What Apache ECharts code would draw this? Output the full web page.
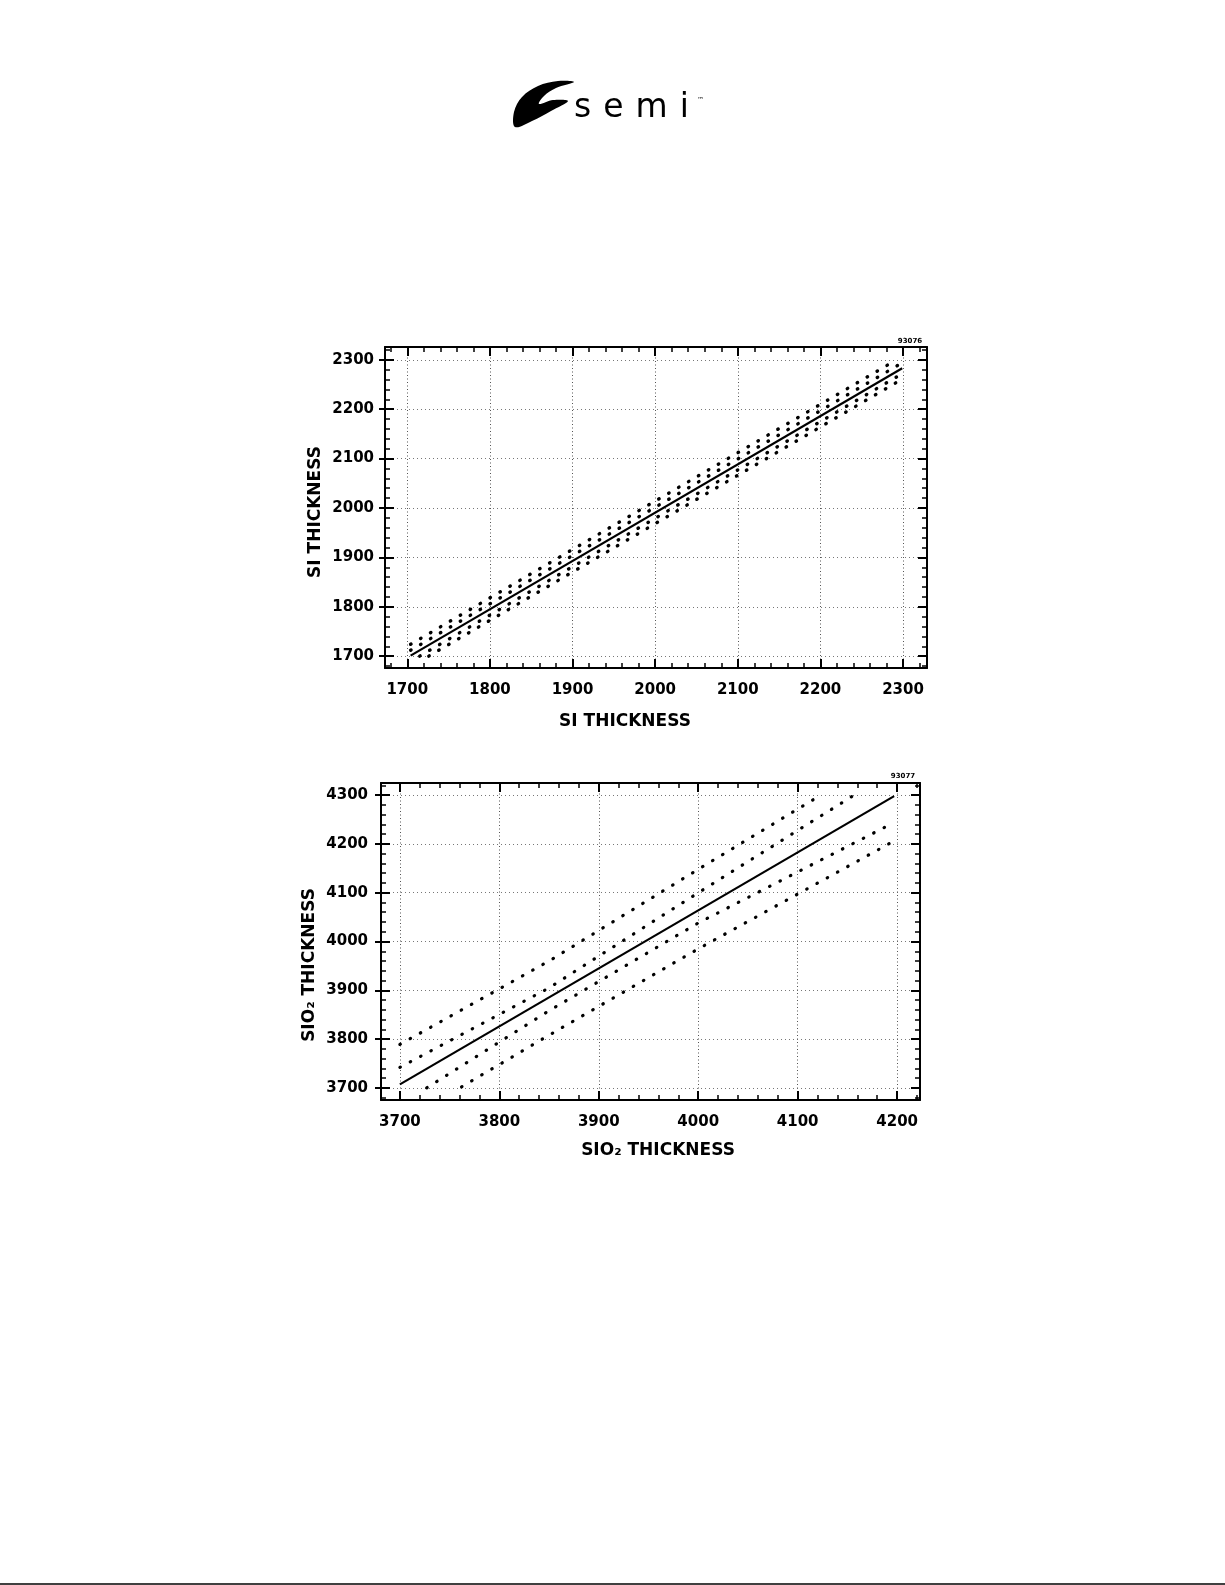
<!DOCTYPE html>
<html>
<head>
<meta charset="utf-8">
<script src="https://cdn.jsdelivr.net/npm/echarts@6/dist/echarts.min.js"></script>
<style>
html,body{margin:0;padding:0;background:#fff;}
#c{width:1225px;height:1585px;}
</style>
</head>
<body>
<div id="c"></div>
<script>
// ---------- Chart 1: Si thickness ----------
const siMajorX = [1700, 1800, 1900, 2000, 2100, 2200, 2300];
const siMajorY = [1700, 1800, 1900, 2000, 2100, 2200, 2300];
const siMinorX = [1680,1700,1720,1740,1760,1780,1800,1820,1840,1860,1880,1900,1920,1940,1960,1980,2000,2020,2040,2060,2080,2100,2120,2140,2160,2180,2200,2220,2240,2260,2280,2300,2320];
const siMinorY = [1680,1700,1720,1740,1760,1780,1800,1820,1840,1860,1880,1900,1920,1940,1960,1980,2000,2020,2040,2060,2080,2100,2120,2140,2160,2180,2200,2220,2240,2260,2280,2300,2320];
const siFit        = [[1704, 1701], [2299, 2283]];
const siUpperOuter = [[1704, 1724], [2292, 2300]];
const siUpperInner = [[1704, 1712], [2299, 2294]];
const siLowerInner = [[1715, 1700], [2299, 2272]];
const siLowerOuter = [[1726, 1700], [2299, 2261]];

// ---------- Chart 2: SiO2 thickness ----------
const sioMajorX = [3700, 3800, 3900, 4000, 4100, 4200];
const sioMajorY = [3700, 3800, 3900, 4000, 4100, 4200, 4300];
const sioMinorX = [3700,3720,3740,3760,3780,3800,3820,3840,3860,3880,3900,3920,3940,3960,3980,4000,4020,4040,4060,4080,4100,4120,4140,4160,4180,4200,4220];
const sioMinorY = [3680,3700,3720,3740,3760,3780,3800,3820,3840,3860,3880,3900,3920,3940,3960,3980,4000,4020,4040,4060,4080,4100,4120,4140,4160,4180,4200,4220,4240,4260,4280,4300,4320];
const sioFit        = [[3700, 3707], [4197, 4298]];
const sioUpperOuter = [[3700, 3789], [3850, 3960], [4000, 4148], [4123, 4300]];
const sioUpperInner = [[3700, 3742], [3850, 3905], [4000, 4100], [4155, 4298]];
const sioLowerInner = [[3727, 3700], [3850, 3858], [4000, 4038], [4195, 4242]];
const sioLowerOuter = [[3762, 3702], [3850, 3808], [4000, 3985], [4195, 4204]];

const FONT = 'DejaVu Sans';
const labelFont = {fontFamily: FONT, fontWeight: 'bold', fontSize: 15, color: '#000'};
const plain = function (v) { return String(v); };

function majorAxis(gridIndex, min, max, majors, position, withLabels, margin, split) {
  return {
    gridIndex: gridIndex, type: 'value', position: position, min: min, max: max,
    axisLine: {show: true, onZero: false, lineStyle: {color: '#000', width: 2}},
    axisTick: {show: true, inside: true, length: 9, customValues: majors, lineStyle: {color: '#000', width: 2}},
    axisLabel: withLabels ? Object.assign({show: true, customValues: majors, margin: margin, formatter: plain}, labelFont) : {show: false},
    splitLine: split ? {show: true, lineStyle: split} : {show: false}
  };
}
function minorAxis(gridIndex, min, max, minors, position) {
  return {
    gridIndex: gridIndex, type: 'value', position: position, min: min, max: max,
    axisLine: {show: false, onZero: false},
    axisTick: {show: true, inside: true, length: 5, customValues: minors, lineStyle: {color: '#000', width: 1.5}},
    axisLabel: {show: false},
    splitLine: {show: false}
  };
}
function outerTickAxis(gridIndex, min, max, majors, position) {
  return {
    gridIndex: gridIndex, type: 'value', position: position, min: min, max: max,
    axisLine: {show: false, onZero: false},
    axisTick: {show: true, inside: false, length: 6, customValues: majors, lineStyle: {color: '#000', width: 2}},
    axisLabel: {show: false},
    splitLine: {show: false}
  };
}

const vGrid = {color: '#555', width: 1, type: [1, 2.5]};
const hGrid = {color: '#777', width: 1, type: [1, 3]};

// chart 1 ranges
const siX = [1673, 2329], siY = [1676, 2326];
// chart 2 ranges
const sioX = [3681, 4223], sioY = [3675, 4325];

const xAxes = [
  majorAxis(0, siX[0], siX[1], siMajorX, 'bottom', true, 15, vGrid),
  minorAxis(0, siX[0], siX[1], siMinorX, 'bottom'),
  majorAxis(0, siX[0], siX[1], siMajorX, 'top', false, 0, null),
  minorAxis(0, siX[0], siX[1], siMinorX, 'top'),
  majorAxis(1, sioX[0], sioX[1], sioMajorX, 'bottom', true, 15, vGrid),
  minorAxis(1, sioX[0], sioX[1], sioMinorX, 'bottom'),
  majorAxis(1, sioX[0], sioX[1], sioMajorX, 'top', false, 0, null),
  minorAxis(1, sioX[0], sioX[1], sioMinorX, 'top')
];
const yAxes = [
  majorAxis(0, siY[0], siY[1], siMajorY, 'left', true, 11, hGrid),
  minorAxis(0, siY[0], siY[1], siMinorY, 'left'),
  outerTickAxis(0, siY[0], siY[1], siMajorY, 'left'),
  majorAxis(0, siY[0], siY[1], siMajorY, 'right', false, 0, null),
  minorAxis(0, siY[0], siY[1], siMinorY, 'right'),
  majorAxis(1, sioY[0], sioY[1], sioMajorY, 'left', true, 13, hGrid),
  minorAxis(1, sioY[0], sioY[1], sioMinorY, 'left'),
  outerTickAxis(1, sioY[0], sioY[1], sioMajorY, 'left'),
  majorAxis(1, sioY[0], sioY[1], sioMajorY, 'right', false, 0, null),
  minorAxis(1, sioY[0], sioY[1], sioMinorY, 'right')
];

function fitLine(data, xi, yi) {
  return {type: 'line', xAxisIndex: xi, yAxisIndex: yi, data: data, symbol: 'none', showSymbol: false,
    lineStyle: {color: '#000', width: 2.2}, silent: true, z: 4};
}
function band(data, xi, yi, period, w) {
  return {type: 'line', xAxisIndex: xi, yAxisIndex: yi, data: data, symbol: 'none', showSymbol: false,
    lineStyle: {color: '#000', width: w, type: [0.5, period], cap: 'round'}, silent: true, z: 3};
}

const titleStyle = {fontFamily: FONT, fontWeight: 'bold', fontSize: 17, fill: '#000'};

const option = {
  animation: false,
  backgroundColor: '#fff',
  grid: [
    {left: 385, top: 347, width: 542, height: 321, containLabel: false},
    {left: 381, top: 783, width: 539, height: 317, containLabel: false}
  ],
  xAxis: xAxes,
  yAxis: yAxes,
  series: [
    band(siUpperOuter, 0, 0, 11, 3.4),
    band(siUpperInner, 0, 0, 11, 3.4),
    band(siLowerInner, 0, 0, 11, 3.4),
    band(siLowerOuter, 0, 0, 11, 3.4),
    fitLine(siFit, 0, 0),
    band(sioUpperOuter, 4, 5, 11.2, 3.2),
    band(sioUpperInner, 4, 5, 11.2, 3.2),
    band(sioLowerInner, 4, 5, 11.2, 3.2),
    band(sioLowerOuter, 4, 5, 11.2, 3.2),
    fitLine(sioFit, 4, 5)
  ],
  graphic: [
    // logo swoosh
    {type: 'polygon', shape: {smooth: 0.35, points: [[515,127],[514,112],[522,97],[538,86],[558,81],[574,82],[556,88],[544,96],[539,104],[553,100],[568,101],[551,111],[532,121]]},
      style: {fill: '#000'}},
    {type: 'text', x: 574, y: 108,
      style: {text: '{a|s}{a|e}{a|m}{a|i}', verticalAlign: 'middle', align: 'left',
        rich: {a: {fontFamily: FONT, fontSize: 33, fill: '#000', padding: [0, 12, 0, 0]}}}},
    {type: 'text', x: 697, y: 100, style: {text: '™', fontFamily: FONT, fontSize: 7, fill: '#000', verticalAlign: 'middle'}},
    // small figure codes
    {type: 'text', x: 910, y: 341, style: {text: '93076', fontFamily: FONT, fontWeight: 'bold', fontSize: 7, fill: '#000', align: 'center', verticalAlign: 'middle'}},
    {type: 'text', x: 903, y: 776, style: {text: '93077', fontFamily: FONT, fontWeight: 'bold', fontSize: 7, fill: '#000', align: 'center', verticalAlign: 'middle'}},
    // axis titles
    {type: 'text', x: 625, y: 722, style: Object.assign({text: 'SI THICKNESS', align: 'center', verticalAlign: 'middle'}, titleStyle)},
    {type: 'text', x: 316, y: 512, rotation: Math.PI / 2, style: Object.assign({text: 'SI THICKNESS', align: 'center', verticalAlign: 'middle'}, titleStyle)},
    {type: 'text', x: 658, y: 1151, style: Object.assign({text: 'SIO₂ THICKNESS', align: 'center', verticalAlign: 'middle'}, titleStyle)},
    {type: 'text', x: 310, y: 965, rotation: Math.PI / 2, style: Object.assign({text: 'SIO₂ THICKNESS', align: 'center', verticalAlign: 'middle'}, titleStyle)},
    // page bottom rule
    {type: 'line', shape: {x1: 0, y1: 1584, x2: 1225, y2: 1584}, style: {stroke: '#000', lineWidth: 1.5}}
  ]
};

const chart = echarts.init(document.getElementById('c'), null, {renderer: 'canvas'});
chart.setOption(option);
</script>
</body>
</html>
